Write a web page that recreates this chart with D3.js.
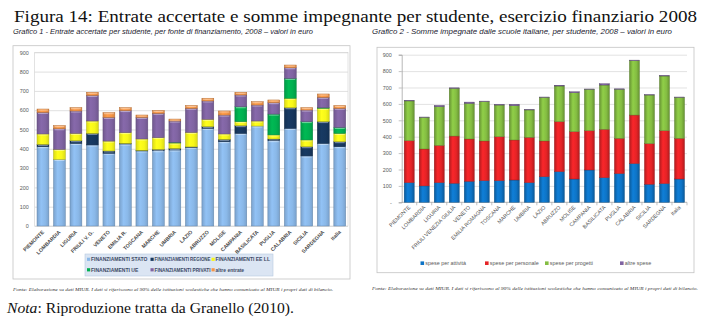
<!DOCTYPE html>
<html>
<head>
<meta charset="utf-8">
<script src="https://cdn.jsdelivr.net/npm/d3@7"></script>
<style>
  body { margin: 0; background: #fff; }
  svg { display: block; }
</style>
</head>
<body>
<svg id="c" width="709" height="322"></svg>
<script>
// ---- Grafico 1: entrate accertate per studente, per fonte (euro) ----
const regioni1 = ["PIEMONTE","LOMBARDIA","LIGURIA","FRIULI V. G.","VENETO","EMILIA R.","TOSCANA","MARCHE","UMBRIA","LAZIO","ABRUZZO","MOLISE","CAMPANIA","BASILICATA","PUGLIA","CALABRIA","SICILIA","SARDEGNA","Italia"];
const finStato    = [411,345,428,420,377,425,389,390,394,408,506,437,480,518,442,506,363,428,411];
const finRegione  = [ 12,  0, 14, 60, 12,  3,  3,  7,  8,  2,  9, 12, 40,  0,  9,107, 48,113, 26];
const finEELL     = [ 54, 52, 38, 64, 51, 56, 59, 61, 28, 75, 38, 28, 21, 26, 21, 49, 35, 69, 43];
const finUE       = [  0,  0,  0,  0,  0,  0,  0,  0,  4,  0,  0,  0, 77,  0,108,103, 95,  3, 31];
const finPrivati  = [112,107,116,133,123,114,112,126,110,125, 95, 98, 61, 83, 59, 55, 60, 54, 99];
const altreEntrate= [ 17, 16, 17, 16, 24, 15, 12, 14, 10, 14, 14, 21, 14, 17, 14, 14, 12, 17, 14];
const serie1 = ["FINANZIAMENTI STATO","FINANZIAMENTI REGIONE","FINANZIAMENTI EE LL","FINANZIAMENTI UE","FINANZIAMENTI PRIVATI","altre entrate"];
const colori1 = ["#8ab8e8","#17375e","#f7f71a","#00b050","#8064a2","#f79646"];
const ticks1 = [0,100,200,300,400,500,600,700,800,900];

// ---- Grafico 2: somme impegnate per studente (euro) ----
const regioni2 = ["PIEMONTE","LOMBARDIA","LIGURIA","FRIULI VENEZIA GIULIA","VENETO","EMILIA ROMAGNA","TOSCANA","MARCHE","UMBRIA","LAZIO","ABRUZZO","MOLISE","CAMPANIA","BASILICATA","PUGLIA","CALABRIA","SICILIA","SARDEGNA","Italia"];
const speseAttivita   = [120,100,120,116,128,132,132,136,120,156,187,142,197,150,175,236,110,114,142];
const spesePersonale  = [256,225,227,288,258,242,268,244,276,218,305,289,240,295,215,296,248,323,248];
const speseProgetti   = [242,193,236,291,217,240,193,209,167,266,217,237,252,270,299,331,296,333,250];
const altreSpese      = [  3,  2,  8,  3,  8,  3,  4,  9,  2,  2,  5,  6,  2,  8,  3,  4,  2,  3,  2];
const serie2 = ["spese per attività","spese per personale","spese per progetti","altre spese"];
const colori2 = ["#0e74c6","#e52326","#84bd42","#8064a2"];
const ticks2 = [0,100,200,300,400,500,600,700,800,900];

const svg = d3.select("#c");
const defs = svg.append("defs");

function gradient(id, color, dark, light) {
  const c = d3.color(color);
  const g = defs.append("linearGradient").attr("id", id)
    .attr("x1", 0).attr("x2", 1).attr("y1", 0).attr("y2", 0);
  g.append("stop").attr("offset", "0%").attr("stop-color", c.darker(dark).formatHex());
  g.append("stop").attr("offset", "35%").attr("stop-color", c.brighter(light).formatHex());
  g.append("stop").attr("offset", "70%").attr("stop-color", c.formatHex());
  g.append("stop").attr("offset", "100%").attr("stop-color", c.darker(dark).formatHex());
}
colori1.forEach((c, i) => gradient("g1_" + i, c, 0.35, 0.15));
colori2.forEach((c, i) => gradient("g2_" + i, c, 0.7, 0.25));

// squeeze a text horizontally when it is wider than the room it has
function fit(sel, maxW) {
  sel.each(function () {
    if (this.getComputedTextLength() > maxW) {
      d3.select(this).attr("textLength", maxW).attr("lengthAdjust", "spacingAndGlyphs");
    }
  });
}

// ---- title, captions ----
svg.append("text")
  .attr("x", 14).attr("y", 22)
  .attr("textLength", 683).attr("lengthAdjust", "spacingAndGlyphs")
  .style("font-family", "'Liberation Serif', 'DejaVu Serif', serif")
  .style("font-size", "17px").attr("fill", "#111")
  .text("Figura 14: Entrate accertate e somme impegnante per studente, esercizio finanziario 2008");

svg.append("text")
  .attr("x", 13).attr("y", 33.5)
  .attr("textLength", 300).attr("lengthAdjust", "spacingAndGlyphs")
  .style("font-family", "'Liberation Sans', sans-serif")
  .style("font-style", "italic").style("font-size", "6.5px").attr("fill", "#1a1a2e")
  .text("Grafico 1 -  Entrate accertate per studente, per fonte di finanziamento, 2008 – valori in euro");

svg.append("text")
  .attr("x", 372).attr("y", 33.5)
  .attr("textLength", 300).attr("lengthAdjust", "spacingAndGlyphs")
  .style("font-family", "'Liberation Sans', sans-serif")
  .style("font-style", "italic").style("font-size", "7px").attr("fill", "#1a1a2e")
  .text("Grafico 2 -  Somme impegnate dalle scuole italiane, per studente, 2008 – valori in euro");

const fonte = "Fonte:  Elaborazione su dati MIUR. I dati si riferiscono al 90% delle istituzioni scolastiche che hanno comunicato al MIUR i propri dati di bilancio.";
svg.append("text")
  .attr("x", 13).attr("y", 291)
  .attr("textLength", 320).attr("lengthAdjust", "spacingAndGlyphs")
  .style("font-family", "'Liberation Serif', serif").style("font-style", "italic")
  .style("font-size", "5px").attr("fill", "#333").text(fonte);
svg.append("text")
  .attr("x", 372).attr("y", 290)
  .attr("textLength", 326).attr("lengthAdjust", "spacingAndGlyphs")
  .style("font-family", "'Liberation Serif', serif").style("font-style", "italic")
  .style("font-size", "5px").attr("fill", "#333").text(fonte);

const nota = svg.append("text")
  .attr("x", 7).attr("y", 313)
  .attr("textLength", 287).attr("lengthAdjust", "spacingAndGlyphs")
  .style("font-family", "'Liberation Serif', 'DejaVu Serif', serif")
  .style("font-size", "15px").attr("fill", "#111");
nota.append("tspan").style("font-style", "italic").text("Nota");
nota.append("tspan").text(": Riproduzione tratta da Granello (2010).");

// =================== Grafico 1 ===================
const g1 = svg.append("g");
g1.append("rect").attr("x", 13).attr("y", 45.7).attr("width", 337).attr("height", 233.3)
  .attr("fill", "#fff").attr("stroke", "#c4c4c4").attr("stroke-width", 0.8);

const p1 = { left: 34.7, right: 348, top: 52.3, bottom: 226 };
const x1 = d3.scaleBand().domain(regioni1).range([p1.left, p1.right]).paddingInner(0.28).paddingOuter(0.14);
const y1 = d3.scaleLinear().domain([0, 900]).range([p1.bottom, p1.top]);

g1.append("rect").attr("x", p1.left).attr("y", p1.top)
  .attr("width", p1.right - p1.left).attr("height", p1.bottom - p1.top)
  .attr("fill", "none").attr("stroke", "#d0d0d0").attr("stroke-width", 0.6);

const ax1 = g1.append("g").attr("transform", `translate(${p1.left},0)`)
  .call(d3.axisLeft(y1).tickValues(ticks1).tickSize(-(p1.right - p1.left)).tickPadding(6).tickFormat(d3.format("d")));
ax1.select(".domain").remove();
ax1.selectAll(".tick line").attr("stroke", "#d3d3d3").attr("stroke-width", 0.7);
ax1.selectAll(".tick text").attr("fill", "#595959")
  .style("font-family", "'Liberation Sans', sans-serif").style("font-size", "5.4px");

const rows1 = regioni1.map((r, i) => ({
  regione: r, s0: finStato[i], s1: finRegione[i], s2: finEELL[i],
  s3: finUE[i], s4: finPrivati[i], s5: altreEntrate[i]
}));
const stack1 = d3.stack().keys(["s0","s1","s2","s3","s4","s5"])(rows1);
stack1.forEach((layer, k) => {
  const sel = g1.append("g").selectAll("g").data(layer.filter(d => d[1] > d[0])).join("g");
  sel.append("rect")
    .attr("x", d => x1(d.data.regione)).attr("width", x1.bandwidth())
    .attr("y", d => y1(d[1])).attr("height", d => y1(d[0]) - y1(d[1]))
    .attr("fill", `url(#g1_${k})`)
    .attr("stroke", d3.color(colori1[k]).darker(0.9).formatHex()).attr("stroke-width", 0.5);
  sel.append("rect")
    .attr("x", d => x1(d.data.regione) + 1).attr("width", x1.bandwidth() - 2)
    .attr("y", d => y1(d[1]) + 0.5).attr("height", d => Math.min(1, y1(d[0]) - y1(d[1]) - 0.5))
    .attr("fill", "#fff").attr("opacity", 0.45);
});

g1.append("g").selectAll("text").data(regioni1).join("text")
  .attr("transform", d => `translate(${x1(d) + x1.bandwidth() / 2 + 1.5},${p1.bottom + 6.5}) rotate(-45)`)
  .attr("text-anchor", "end")
  .style("font-family", "'Liberation Sans', sans-serif")
  .style("font-size", "5.2px").style("font-weight", "bold").attr("fill", "#4a4a4a")
  .text(d => d);

// legend
const lg1 = g1.append("g");
lg1.append("rect").attr("x", 85).attr("y", 254).attr("width", 188).attr("height", 22)
  .attr("fill", "#dbe5f3").attr("stroke", "#b7c9e2").attr("stroke-width", 0.6);
const legCols = [87, 150.5, 211.5];
const legRoom = [57, 56, 55];
serie1.forEach((s, i) => {
  const cx = legCols[i % 3], cy = i < 3 ? 260.5 : 271;
  lg1.append("rect").attr("x", cx).attr("y", cy - 2.8).attr("width", 3.2).attr("height", 3.2).attr("fill", colori1[i]);
  lg1.append("text").attr("x", cx + 4).attr("y", cy + 0.7)
    .style("font-family", "'Liberation Sans', sans-serif")
    .style("font-size", "5px").style("font-weight", "bold").attr("fill", "#3c4a66")
    .text(s)
    .call(fit, legRoom[i % 3]);
});

// =================== Grafico 2 ===================
const g2 = svg.append("g");
g2.append("rect").attr("x", 377).attr("y", 47.3).attr("width", 317).attr("height", 225.4)
  .attr("fill", "#fff").attr("stroke", "#c4c4c4").attr("stroke-width", 0.8);

const p2 = { left: 401.7, right: 687, top: 54.7, bottom: 202.3 };
const x2 = d3.scaleBand().domain(regioni2).range([p2.left, p2.right]).paddingInner(0.33).paddingOuter(0.165);
const y2 = d3.scaleLinear().domain([0, 900]).range([p2.bottom, p2.top]);

const grid2 = g2.append("g").attr("transform", `translate(${p2.left},0)`)
  .call(d3.axisLeft(y2).tickValues(ticks2.slice(1)).tickSize(-(p2.right - p2.left)).tickFormat(""));
grid2.select(".domain").remove();
grid2.selectAll(".tick line").attr("stroke", "#d6d6d6").attr("stroke-width", 0.7);

const ax2 = g2.append("g").attr("transform", `translate(${p2.left},0)`)
  .call(d3.axisLeft(y2).tickValues(ticks2).tickSize(3).tickPadding(7)
    .tickFormat(d => d === 0 ? "-" : d3.format("d")(d)));
ax2.select(".domain").attr("stroke", "#9a9a9a").attr("stroke-width", 0.7);
ax2.selectAll(".tick line").attr("stroke", "#9a9a9a").attr("stroke-width", 0.6);
ax2.selectAll(".tick text").attr("fill", "#595959")
  .style("font-family", "'Liberation Sans', sans-serif").style("font-size", "5.4px");

// category axis line and separators
g2.append("line").attr("x1", p2.left).attr("x2", p2.right).attr("y1", p2.bottom).attr("y2", p2.bottom)
  .attr("stroke", "#9a9a9a").attr("stroke-width", 0.7);
g2.append("g").selectAll("line").data(regioni2).join("line")
  .attr("x1", d => x2(d) + x2.bandwidth() + x2.step() * x2.paddingInner() / 2)
  .attr("x2", d => x2(d) + x2.bandwidth() + x2.step() * x2.paddingInner() / 2)
  .attr("y1", p2.bottom).attr("y2", p2.bottom + 3)
  .attr("stroke", "#9a9a9a").attr("stroke-width", 0.6);

const rows2 = regioni2.map((r, i) => ({
  regione: r, s0: speseAttivita[i], s1: spesePersonale[i], s2: speseProgetti[i], s3: altreSpese[i]
}));
const stack2 = d3.stack().keys(["s0","s1","s2","s3"])(rows2);
stack2.forEach((layer, k) => {
  g2.append("g").selectAll("rect").data(layer).join("rect")
    .attr("x", d => x2(d.data.regione)).attr("width", x2.bandwidth())
    .attr("y", d => y2(d[1])).attr("height", d => y2(d[0]) - y2(d[1]))
    .attr("fill", `url(#g2_${k})`)
    .attr("stroke", d3.color(colori2[k]).darker(1.2).formatHex()).attr("stroke-width", 0.4);
});

g2.append("g").selectAll("text").data(regioni2).join("text")
  .attr("transform", d => `translate(${x2(d) + x2.bandwidth() / 2 + 1.5},${p2.bottom + 5.5}) rotate(-45)`)
  .attr("text-anchor", "end")
  .style("font-family", "'Liberation Sans', sans-serif")
  .style("font-size", "5.3px").attr("fill", "#4a4a4a")
  .text(d => d);

const lg2x = [420.5, 485, 545, 620];
serie2.forEach((s, i) => {
  g2.append("rect").attr("x", lg2x[i]).attr("y", 261.4).attr("width", 3.6).attr("height", 3.6)
    .attr("fill", colori2[i]);
  g2.append("text").attr("x", lg2x[i] + 4.8).attr("y", 265.4)
    .style("font-family", "'Liberation Sans', sans-serif")
    .style("font-size", "5.4px").attr("fill", "#595959")
    .text(s);
});
</script>
</body>
</html>
